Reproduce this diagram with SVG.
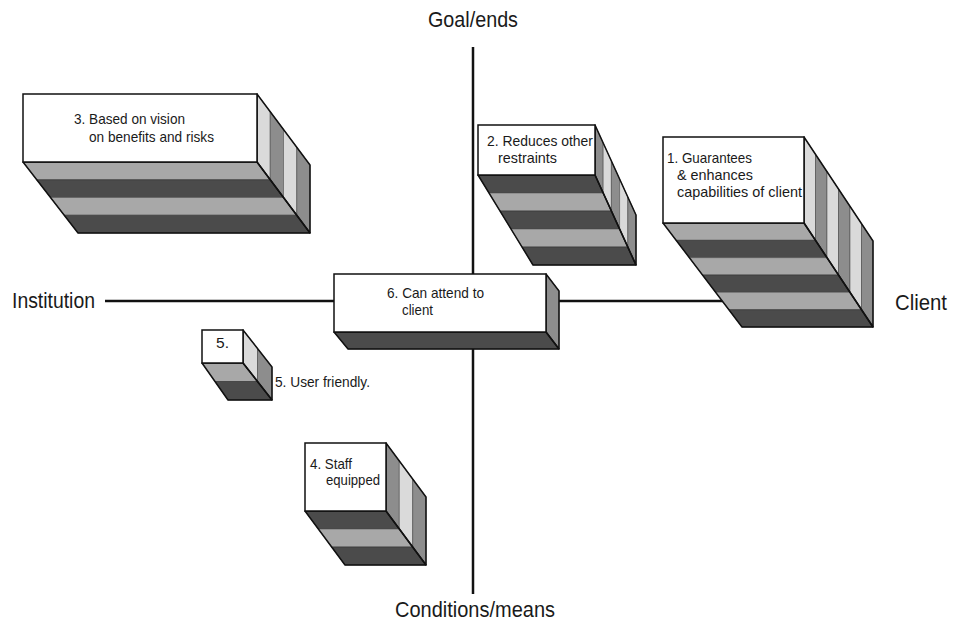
<svg xmlns="http://www.w3.org/2000/svg" width="955" height="622" viewBox="0 0 955 622">
<style>
  text { font-family: "Liberation Sans", Arial, sans-serif; fill: #1a1a1a; }
  .ax { font-size: 22px; }
  .lb { font-size: 15px; }
  .axis { stroke: #111; stroke-width: 2.5; fill: none; }
  .front { fill: #fff; stroke: #111; stroke-width: 1.5; }
  .edge { fill: none; stroke: #111; stroke-width: 1.5; stroke-linejoin: round; }
  .bl { fill: #a8a8a8; stroke: #555; stroke-width: 0.6; }
  .bd { fill: #4b4b4b; stroke: #333; stroke-width: 0.6; }
  .rl { fill: #dadada; stroke: #555; stroke-width: 0.6; }
  .rg { fill: #8d8d8d; stroke: #444; stroke-width: 0.6; }
</style>
<rect width="955" height="622" fill="#fff"/>
<g id="connectors">
  <line class="axis" x1="473" y1="47" x2="473" y2="594"/>
  <line class="axis" x1="105" y1="301" x2="760" y2="301"/>
</g>
<g id="axis-labels">
  <text class="ax" x="428" y="27" textLength="90" lengthAdjust="spacingAndGlyphs">Goal/ends</text>
  <text class="ax" x="12" y="308" textLength="83" lengthAdjust="spacingAndGlyphs">Institution</text>
  <text class="ax" x="895" y="310" textLength="52" lengthAdjust="spacingAndGlyphs">Client</text>
  <text class="ax" x="395" y="617" textLength="160" lengthAdjust="spacingAndGlyphs">Conditions/means</text>
</g>
<g id="node3">
  <polygon class="bl" points="23,162 257,162 270.25,179.75 36.75,179.75"/>
  <polygon class="bd" points="36.75,179.75 270.25,179.75 283.5,197.5 50.5,197.5"/>
  <polygon class="bl" points="50.5,197.5 283.5,197.5 296.75,215.25 64.25,215.25"/>
  <polygon class="bd" points="64.25,215.25 296.75,215.25 310,233 78,233"/>
  <polygon class="rl" points="257,94 270.25,111.75 270.25,179.75 257,162"/>
  <polygon class="rg" points="270.25,111.75 283.5,129.5 283.5,197.5 270.25,179.75"/>
  <polygon class="rl" points="283.5,129.5 296.75,147.25 296.75,215.25 283.5,197.5"/>
  <polygon class="rg" points="296.75,147.25 310,165 310,233 296.75,215.25"/>
  <polygon class="edge" points="23,162 257,162 310,233 78,233"/>
  <polygon class="edge" points="257,94 310,165 310,233 257,162"/>
  <rect class="front" x="23" y="94" width="234" height="68"/>
  <text class="lb" x="74" y="124" textLength="111" lengthAdjust="spacingAndGlyphs">3. Based on vision</text>
  <text class="lb" x="89" y="142" textLength="125" lengthAdjust="spacingAndGlyphs">on benefits and risks</text>
</g>
<g id="node2">
  <polygon class="bd" points="478,175 595,175 603.2,193 489,193"/>
  <polygon class="bl" points="489,193 603.2,193 611.4,211 500,211"/>
  <polygon class="bd" points="500,211 611.4,211 619.6,229 511,229"/>
  <polygon class="bl" points="511,229 619.6,229 627.8,247 522,247"/>
  <polygon class="bd" points="522,247 627.8,247 636,265 533,265"/>
  <polygon class="rg" points="595,125 603.2,143 603.2,193 595,175"/>
  <polygon class="rl" points="603.2,143 611.4,161 611.4,211 603.2,193"/>
  <polygon class="rg" points="611.4,161 619.6,179 619.6,229 611.4,211"/>
  <polygon class="rl" points="619.6,179 627.8,197 627.8,247 619.6,229"/>
  <polygon class="rg" points="627.8,197 636,215 636,265 627.8,247"/>
  <polygon class="edge" points="478,175 595,175 636,265 533,265"/>
  <polygon class="edge" points="595,125 636,215 636,265 595,175"/>
  <rect class="front" x="478" y="125" width="117" height="50"/>
  <text class="lb" x="487" y="146" textLength="106" lengthAdjust="spacingAndGlyphs">2. Reduces other</text>
  <text class="lb" x="498" y="163" textLength="59" lengthAdjust="spacingAndGlyphs">restraints</text>
</g>
<g id="node1">
  <polygon class="bl" points="663,223 804,223 815.5,240.33 676.17,240.33"/>
  <polygon class="bd" points="676.17,240.33 815.5,240.33 827,257.67 689.33,257.67"/>
  <polygon class="bl" points="689.33,257.67 827,257.67 838.5,275 702.5,275"/>
  <polygon class="bd" points="702.5,275 838.5,275 850,292.33 715.67,292.33"/>
  <polygon class="bl" points="715.67,292.33 850,292.33 861.5,309.67 728.83,309.67"/>
  <polygon class="bd" points="728.83,309.67 861.5,309.67 873,327 742,327"/>
  <polygon class="rl" points="804,137 815.5,154.33 815.5,240.33 804,223"/>
  <polygon class="rg" points="815.5,154.33 827,171.67 827,257.67 815.5,240.33"/>
  <polygon class="rl" points="827,171.67 838.5,189 838.5,275 827,257.67"/>
  <polygon class="rg" points="838.5,189 850,206.33 850,292.33 838.5,275"/>
  <polygon class="rl" points="850,206.33 861.5,223.67 861.5,309.67 850,292.33"/>
  <polygon class="rg" points="861.5,223.67 873,241 873,327 861.5,309.67"/>
  <polygon class="edge" points="663,223 804,223 873,327 742,327"/>
  <polygon class="edge" points="804,137 873,241 873,327 804,223"/>
  <rect class="front" x="663" y="137" width="141" height="86"/>
  <text class="lb" x="667" y="163" textLength="85" lengthAdjust="spacingAndGlyphs">1. Guarantees</text>
  <text class="lb" x="677" y="180" textLength="76" lengthAdjust="spacingAndGlyphs">&amp; enhances</text>
  <text class="lb" x="677" y="197" textLength="125" lengthAdjust="spacingAndGlyphs">capabilities of client</text>
</g>
<g id="node6">
  <polygon class="bd" points="334,332 546,332 559,349 348,349"/>
  <polygon class="rg" points="546,274 559,291 559,349 546,332"/>
  <polygon class="edge" points="334,332 546,332 559,349 348,349"/>
  <polygon class="edge" points="546,274 559,291 559,349 546,332"/>
  <rect class="front" x="334" y="274" width="212" height="58"/>
  <text class="lb" x="387" y="298" textLength="97" lengthAdjust="spacingAndGlyphs">6. Can attend to</text>
  <text class="lb" x="402" y="315" textLength="31" lengthAdjust="spacingAndGlyphs">client</text>
</g>
<g id="node5">
  <polygon class="bl" points="202,363 243,363 257.5,381.5 215,381.5"/>
  <polygon class="bd" points="215,381.5 257.5,381.5 272,400 228,400"/>
  <polygon class="rl" points="243,330 257.5,348.5 257.5,381.5 243,363"/>
  <polygon class="rg" points="257.5,348.5 272,367 272,400 257.5,381.5"/>
  <polygon class="edge" points="202,363 243,363 272,400 228,400"/>
  <polygon class="edge" points="243,330 272,367 272,400 243,363"/>
  <rect class="front" x="202" y="330" width="41" height="33"/>
  <text class="lb" x="216" y="348" textLength="13" lengthAdjust="spacingAndGlyphs">5.</text>
  <text class="lb" x="275" y="387" textLength="95" lengthAdjust="spacingAndGlyphs">5. User friendly.</text>
</g>
<g id="node4">
  <polygon class="bd" points="305,511 386,511 399.33,529 318.33,529"/>
  <polygon class="bl" points="318.33,529 399.33,529 412.67,547 331.67,547"/>
  <polygon class="bd" points="331.67,547 412.67,547 426,565 345,565"/>
  <polygon class="rg" points="386,443 399.33,461 399.33,529 386,511"/>
  <polygon class="rl" points="399.33,461 412.67,479 412.67,547 399.33,529"/>
  <polygon class="rg" points="412.67,479 426,497 426,565 412.67,547"/>
  <polygon class="edge" points="305,511 386,511 426,565 345,565"/>
  <polygon class="edge" points="386,443 426,497 426,565 386,511"/>
  <rect class="front" x="305" y="443" width="81" height="68"/>
  <text class="lb" x="310" y="469" textLength="42" lengthAdjust="spacingAndGlyphs">4. Staff</text>
  <text class="lb" x="326" y="485" textLength="54" lengthAdjust="spacingAndGlyphs">equipped</text>
</g>
</svg>
